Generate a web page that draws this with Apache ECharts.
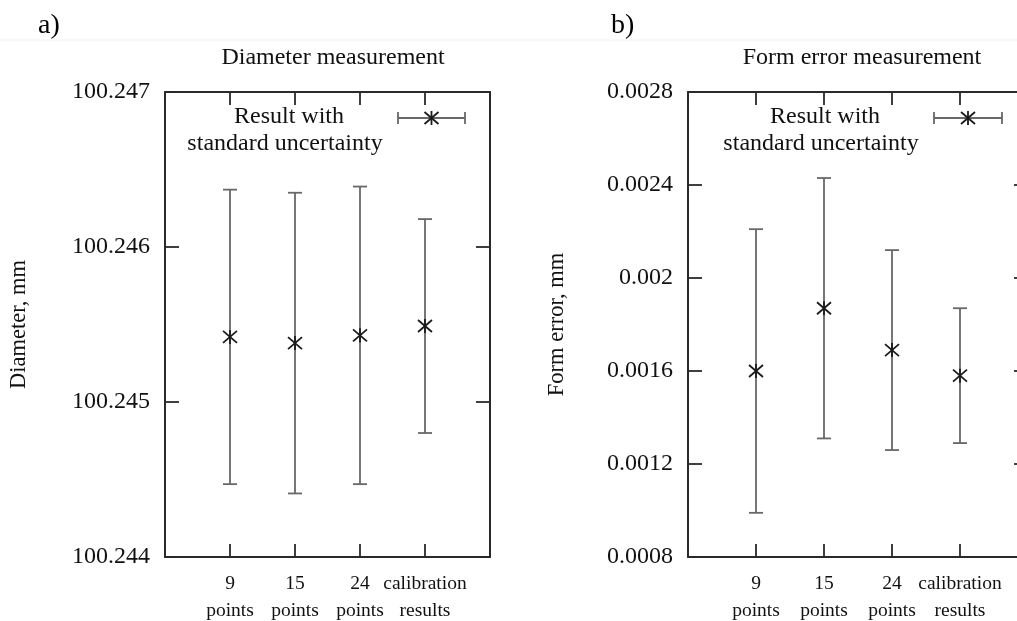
<!DOCTYPE html>
<html>
<head>
<meta charset="utf-8">
<script src="https://cdn.jsdelivr.net/npm/echarts@6/dist/echarts.min.js"></script>
<style>
html,body{margin:0;padding:0;background:#fff;}
#chart{width:1017px;height:621px;}
</style>
</head>
<body>
<div id="chart"></div>
<script>
// ---- data ----
const categoryLabels = ['9\npoints', '15\npoints', '24\npoints', 'calibration\nresults'];
const categoryPos = [1, 2, 3, 4];

const diameterValue = [100.24542, 100.24538, 100.24543, 100.24549];
const diameterLow   = [100.24447, 100.24441, 100.24447, 100.24480];
const diameterHigh  = [100.24637, 100.24635, 100.24639, 100.24618];

const formValue = [0.00160, 0.00187, 0.00169, 0.00158];
const formLow   = [0.00099, 0.00131, 0.00126, 0.00129];
const formHigh  = [0.00221, 0.00243, 0.00212, 0.00187];

const diameterTicks = {min: 100.244, max: 100.247, interval: 0.001};
const formTicks = {min: 0.0008, max: 0.0028, interval: 0.0004};

const panelTitles = ['Diameter measurement', 'Form error measurement'];
const axisNames = ['Diameter, mm', 'Form error, mm'];
const panelTags = ['a)', 'b)'];
const legendLines = ['Result with', 'standard uncertainty'];

// ---- styling ----
const FONT = 'Liberation Serif';
const FRAME = '#2a2a2a';
const BAR = '#686868';
const STAR = '#1a1a1a';

function rows(pos, v, lo, hi) {
  return pos.map((p, i) => [p, v[i], lo[i], hi[i]]);
}

function renderErr(params, api) {
  const x = api.value(0), v = api.value(1), lo = api.value(2), hi = api.value(3);
  const pc = api.coord([x, v]);
  const pl = api.coord([x, lo]);
  const ph = api.coord([x, hi]);
  const cap = 7;
  const barStyle = {stroke: BAR, lineWidth: 1.8};
  const starStyle = {stroke: STAR, lineWidth: 1.8};
  return {
    type: 'group',
    children: [
      {type: 'line', shape: {x1: pc[0], y1: pl[1], x2: pc[0], y2: ph[1]}, style: barStyle},
      {type: 'line', shape: {x1: pc[0] - cap, y1: ph[1], x2: pc[0] + cap, y2: ph[1]}, style: barStyle},
      {type: 'line', shape: {x1: pc[0] - cap, y1: pl[1], x2: pc[0] + cap, y2: pl[1]}, style: barStyle},
      {type: 'line', shape: {x1: pc[0] - 7, y1: pc[1] - 6, x2: pc[0] + 7, y2: pc[1] + 6}, style: starStyle},
      {type: 'line', shape: {x1: pc[0] - 7, y1: pc[1] + 6, x2: pc[0] + 7, y2: pc[1] - 6}, style: starStyle},
      {type: 'line', shape: {x1: pc[0], y1: pc[1] - 7, x2: pc[0], y2: pc[1] + 7}, style: starStyle}
    ]
  };
}

function fmtY(dec) {
  return v => parseFloat(Number(v).toFixed(dec)).toString();
}
function fmtYFixed(dec) {
  return v => Number(v).toFixed(dec);
}

const grids = [
  {left: 165, top: 92, width: 325, height: 465, containLabel: false, outerBoundsMode: 'none'},
  {left: 688, top: 92, width: 340, height: 465, containLabel: false, outerBoundsMode: 'none'}
];

const lineStyleFrame = {show: true, onZero: false, lineStyle: {color: FRAME, width: 2}};
const tickStyle = {color: FRAME, width: 1.8};

function xAxes(gi) {
  return [
    {
      type: 'value', gridIndex: gi, position: 'bottom', min: 0, max: 5, interval: 1,
      axisLine: lineStyleFrame,
      axisTick: {show: true, inside: true, length: 13, lineStyle: tickStyle},
      splitLine: {show: false},
      axisLabel: {
        show: true, margin: 13, fontFamily: FONT, fontSize: 19.5, color: '#111', lineHeight: 27,
        formatter: v => { const i = categoryPos.indexOf(Math.round(v)); return i >= 0 ? categoryLabels[i] : ''; }
      }
    },
    {
      type: 'value', gridIndex: gi, position: 'top', min: 0, max: 5, interval: 1,
      axisLine: lineStyleFrame,
      axisTick: {show: true, inside: true, length: 13, lineStyle: tickStyle},
      splitLine: {show: false},
      axisLabel: {show: false}
    }
  ];
}

function yAxes(gi, t, fmt, name, gap) {
  return [
    {
      type: 'value', gridIndex: gi, position: 'left', min: t.min, max: t.max, interval: t.interval,
      name: name, nameLocation: 'middle', nameGap: gap, nameRotate: 90,
      nameTextStyle: {fontFamily: FONT, fontSize: 22.5, color: '#111'},
      axisLine: lineStyleFrame,
      axisTick: {show: true, inside: true, length: 14, lineStyle: tickStyle},
      splitLine: {show: false},
      axisLabel: {show: true, margin: 15, fontFamily: FONT, fontSize: 24, color: '#111', formatter: fmt}
    },
    {
      type: 'value', gridIndex: gi, position: 'right', min: t.min, max: t.max, interval: t.interval,
      axisLine: lineStyleFrame,
      axisTick: {show: true, inside: true, length: 14, lineStyle: tickStyle},
      splitLine: {show: false},
      axisLabel: {show: false}
    }
  ];
}

function legendGraphic(cx, sx0, sx1, sy) {
  const mid = (sx0 + sx1) / 2;
  const st = {stroke: BAR, lineWidth: 1.8};
  const ss = {stroke: STAR, lineWidth: 1.8};
  return [
    {type: 'text', x: cx + 4, y: 117, style: {text: legendLines[0], font: '24px "' + FONT + '"', fill: '#111', textAlign: 'center', textVerticalAlign: 'middle'}},
    {type: 'text', x: cx, y: 144, style: {text: legendLines[1], font: '24px "' + FONT + '"', fill: '#111', textAlign: 'center', textVerticalAlign: 'middle'}},
    {type: 'line', shape: {x1: sx0, y1: sy, x2: sx1, y2: sy}, style: st},
    {type: 'line', shape: {x1: sx0, y1: sy - 6, x2: sx0, y2: sy + 6}, style: st},
    {type: 'line', shape: {x1: sx1, y1: sy - 6, x2: sx1, y2: sy + 6}, style: st},
    {type: 'line', shape: {x1: mid - 7, y1: sy - 6, x2: mid + 7, y2: sy + 6}, style: ss},
    {type: 'line', shape: {x1: mid - 7, y1: sy + 6, x2: mid + 7, y2: sy - 6}, style: ss},
    {type: 'line', shape: {x1: mid, y1: sy - 7, x2: mid, y2: sy + 7}, style: ss}
  ];
}

const chart = echarts.init(document.getElementById('chart'), null, {renderer: 'canvas'});
chart.setOption({
  backgroundColor: '#fff',
  animation: false,
  title: [
    {text: panelTitles[0], left: 328, top: 53, textAlign: 'center', textVerticalAlign: 'middle',
     textStyle: {fontFamily: FONT, fontSize: 24, fontWeight: 'normal', color: '#111'}},
    {text: panelTitles[1], left: 857, top: 53, textAlign: 'center', textVerticalAlign: 'middle',
     textStyle: {fontFamily: FONT, fontSize: 24, fontWeight: 'normal', color: '#111'}}
  ],
  grid: grids,
  xAxis: [...xAxes(0), ...xAxes(1)],
  yAxis: [
    ...yAxes(0, diameterTicks, fmtYFixed(3), axisNames[0], 134),
    ...yAxes(1, formTicks, fmtY(4), axisNames[1], 119)
  ],
  graphic: [
    {type: 'line', shape: {x1: 0, y1: 40, x2: 1017, y2: 40}, style: {stroke: '#f3f3f3', lineWidth: 1}},
    {type: 'text', x: 38, y: 26, style: {text: panelTags[0], font: '28px "' + FONT + '"', fill: '#000', textVerticalAlign: 'middle'}},
    {type: 'text', x: 611, y: 26, style: {text: panelTags[1], font: '28px "' + FONT + '"', fill: '#000', textVerticalAlign: 'middle'}},
    ...legendGraphic(285, 398, 465, 118),
    ...legendGraphic(821, 934, 1002, 118)
  ],
  series: [
    {type: 'custom', xAxisIndex: 0, yAxisIndex: 0, renderItem: renderErr,
     encode: {x: 0, y: [1, 2, 3]}, data: rows(categoryPos, diameterValue, diameterLow, diameterHigh)},
    {type: 'custom', xAxisIndex: 2, yAxisIndex: 2, renderItem: renderErr,
     encode: {x: 0, y: [1, 2, 3]}, data: rows(categoryPos, formValue, formLow, formHigh)}
  ]
});
</script>
</body>
</html>
